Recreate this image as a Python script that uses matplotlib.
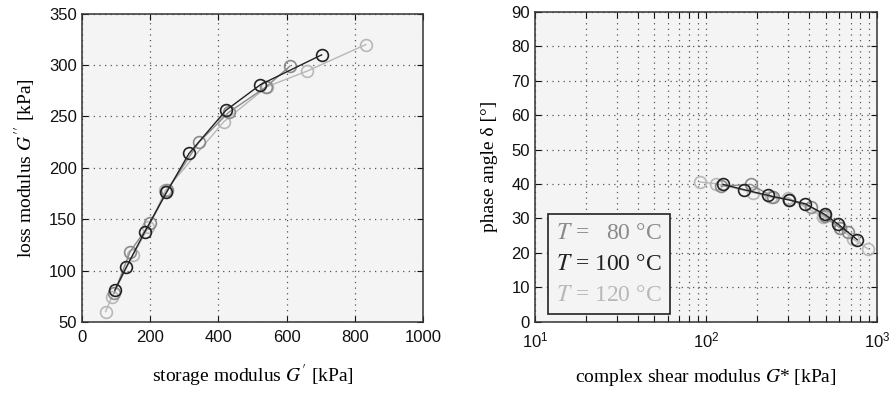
import matplotlib
matplotlib.use("Agg")
import matplotlib.pyplot as plt
from matplotlib.lines import Line2D
from matplotlib.ticker import LogLocator, NullFormatter

# ---- data ----
temps = ["80", "100", "120"]
colors = ["#8a8a8a", "#222222", "#b8b8b8"]

# storage modulus G' [kPa] and loss modulus G'' [kPa]
g1_80 = [95, 141, 200, 250, 343, 430, 540, 609]
g2_80 = [78, 118, 146, 178, 225, 254, 279, 299]
g1_100 = [97, 130, 185, 248, 314, 422, 523, 702]
g2_100 = [81, 103, 138, 176, 214, 256, 281, 310]
g1_120 = [70, 88, 150, 195, 245, 416, 542, 658, 831]
g2_120 = [60, 74, 115, 142, 178, 245, 279, 294, 320]

# complex shear modulus G* [kPa] and phase angle delta [deg]
gs_80 = [123, 184, 248, 307, 410, 499, 608, 678]
d_80 = [39.4, 39.9, 36.1, 35.5, 33.3, 30.6, 27.3, 26.1]
gs_100 = [126, 166, 231, 304, 380, 494, 594, 767]
d_100 = [39.9, 38.4, 36.7, 35.4, 34.3, 31.2, 28.3, 23.8]
gs_120 = [92, 115, 189, 241, 303, 483, 610, 721, 890]
d_120 = [40.6, 40.1, 37.5, 36.1, 36.0, 30.5, 27.2, 24.1, 21.1]

left_xticks = [0, 200, 400, 600, 800, 1000]
left_yticks = [50, 100, 150, 200, 250, 300, 350]
right_yticks = list(range(0, 100, 10))

plt.rcParams["font.family"] = ["Liberation Sans", "DejaVu Sans"]
plt.rcParams["mathtext.fontset"] = "stix"

fig = plt.figure(figsize=(8.91, 3.94), dpi=100)
ax1 = fig.add_axes([0.0917, 0.183, 0.3836, 0.782])
ax2 = fig.add_axes([0.6004, 0.1835, 0.3839, 0.786])

bg = "#f4f4f4"
spine_c = "#333333"
grid_kw = dict(color="#555555", linestyle=(0, (1, 3.5)), linewidth=0.9)

series_l = [(g1_120, g2_120, colors[2]), (g1_80, g2_80, colors[0]), (g1_100, g2_100, colors[1])]
series_r = [(gs_120, d_120, colors[2]), (gs_80, d_80, colors[0]), (gs_100, d_100, colors[1])]

mk = dict(marker="o", markersize=8.5, markerfacecolor="none", markeredgewidth=1.2, linewidth=1.0)

for ax in (ax1, ax2):
    ax.set_facecolor(bg)
    for s in ax.spines.values():
        s.set_color(spine_c)
        s.set_linewidth(1.1)
    ax.tick_params(which="both", direction="in", top=True, right=True,
                   labelsize=12, colors="#111111", length=4, width=0.8)
    ax.tick_params(axis="x", which="both", pad=6)
    ax.set_axisbelow(True)

for x, y, c in series_l:
    ax1.plot(x, y, color=c, markeredgecolor=c, **mk)
ax1.set_xlim(0, 1000)
ax1.set_ylim(50, 350)
ax1.set_xticks(left_xticks)
ax1.set_yticks(left_yticks)
ax1.grid(True, which="major", **grid_kw)
ax1.set_xlabel(r"storage modulus $G^{\prime}$ [kPa]", family="Liberation Serif", fontsize=14, labelpad=12.5)
ax1.set_ylabel(r"loss modulus $G^{\prime\prime}$ [kPa]", family="Liberation Serif", fontsize=14, labelpad=8)

for x, y, c in series_r:
    ax2.plot(x, y, color=c, markeredgecolor=c, **mk)
ax2.set_xscale("log")
ax2.set_xlim(10, 1000)
ax2.set_ylim(0, 90)
ax2.set_yticks(right_yticks)
ax2.xaxis.set_minor_locator(LogLocator(base=10, subs=range(2, 10)))
ax2.xaxis.set_minor_formatter(NullFormatter())
ax2.grid(True, which="both", **grid_kw)
ax2.set_xlabel(r"complex shear modulus $G$* [kPa]", family="Liberation Serif", fontsize=14, labelpad=12.5)
ax2.set_ylabel("phase angle δ [°]", family="Liberation Serif", fontsize=14, labelpad=10)

handles = [Line2D([], [], linestyle="none") for _ in temps]
labels = [r"$T$ =   80 °C", r"$T$ = 100 °C", r"$T$ = 120 °C"]
leg = ax2.legend(handles, labels, loc="lower left", bbox_to_anchor=(0.038, 0.025),
                 borderaxespad=0, handlelength=0, handletextpad=0, labelcolor=colors,
                 prop={"family": "Liberation Serif", "size": 17}, fancybox=False,
                 framealpha=1, facecolor=bg, edgecolor="#222222",
                 labelspacing=0.4, borderpad=0.35)
leg.get_frame().set_linewidth(1.2)

fig.savefig("out.png", dpi=100)
